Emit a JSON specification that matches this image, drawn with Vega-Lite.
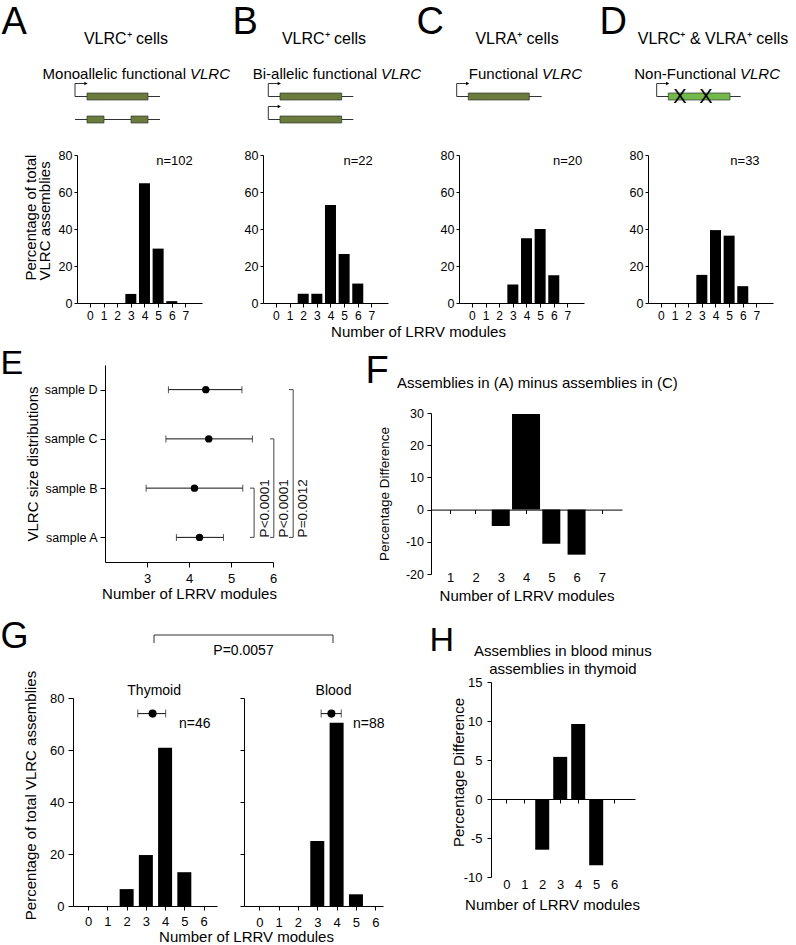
{
  "$schema": "https://vega.github.io/schema/vega-lite/v6.json",
  "padding": 0,
  "background": "white",
  "config": {
    "font": "Liberation Sans",
    "view": {"stroke": null},
    "axis": {"grid": false, "domainColor": "#000", "tickColor": "#000", "labelColor": "#000", "titleColor": "#000", "titleFontWeight": "normal", "labelFontSize": 12.5, "titleFontSize": 15, "tickSize": 4, "labelFlush": false, "labelOverlap": false, "labelFont": "Liberation Sans", "titleFont": "Liberation Sans"},
    "title": {"fontWeight": "normal", "color": "#000", "font": "Liberation Sans"}
  },
  "datasets": {
    "e_samples": [
      {"sample": "sample A", "mean": 4.25, "lo": 3.70, "hi": 4.82},
      {"sample": "sample B", "mean": 4.13, "lo": 2.98, "hi": 5.28},
      {"sample": "sample C", "mean": 4.47, "lo": 3.45, "hi": 5.51},
      {"sample": "sample D", "mean": 4.40, "lo": 3.51, "hi": 5.26}
    ],
    "e_tests": [
      {"pair": "A vs B", "p": "P<0.0001"},
      {"pair": "A vs C", "p": "P<0.0001"},
      {"pair": "A vs D", "p": "P=0.0012"}
    ],
    "f_diff": [
      {"modules": 3, "difference": -5.1},
      {"modules": 4, "difference": 29.7},
      {"modules": 5, "difference": -10.6},
      {"modules": 6, "difference": -14.0}
    ],
    "h_diff": [
      {"modules": 2, "difference": -6.5},
      {"modules": 3, "difference": 5.4},
      {"modules": 4, "difference": 9.6},
      {"modules": 5, "difference": -8.5}
    ],
    "g_thymoid": [
      {"modules": 2, "percent": 6.5},
      {"modules": 3, "percent": 19.6},
      {"modules": 4, "percent": 60.9},
      {"modules": 5, "percent": 13.0}
    ],
    "g_blood": [
      {"modules": 3, "percent": 25.0},
      {"modules": 4, "percent": 70.5},
      {"modules": 5, "percent": 4.5}
    ],
    "g_thymoid_summary": [{"tissue": "Thymoid", "n": "n=46", "mean": 3.35, "lo": 2.58, "hi": 4.03}],
    "g_blood_summary": [{"tissue": "Blood", "n": "n=88", "mean": 3.73, "lo": 3.20, "hi": 4.24}]
  },
  "spacing": 0,
  "bounds": "flush",
  "hconcat": [
    {"spacing": 0, "bounds": "flush", "vconcat": [
      {"width": 1, "height": 647, "data": {"values": []}, "mark": "point"},
      {"width": 1, "height": 1, "data": {"values": [{"panel": "G"}]}, "mark": {"type": "text", "fontSize": 36, "align": "left", "baseline": "alphabetic", "color": "#000"}, "encoding": {"text": {"field": "panel", "type": "nominal"}}}
    ]},
    {"spacing": 0, "bounds": "flush", "vconcat": [
      {"width": 1, "height": 373, "data": {"values": []}, "mark": "point"},
      {"width": 1, "height": 1, "data": {"values": [{"panel": "E"}]}, "mark": {"type": "text", "fontSize": 34, "align": "left", "baseline": "alphabetic", "color": "#000"}, "encoding": {"text": {"field": "panel", "type": "nominal"}}}
    ]},
    {"width": 1, "height": 1, "data": {"values": []}, "mark": "point"},
    {"spacing": 0, "bounds": "flush", "vconcat": [
      {"width": 1, "height": 33, "data": {"values": []}, "mark": "point"},
      {"width": 1, "height": 1, "data": {"values": [{"panel": "A"}]}, "mark": {"type": "text", "fontSize": 38, "align": "left", "baseline": "alphabetic", "color": "#000"}, "encoding": {"text": {"field": "panel", "type": "nominal"}}}
    ]},
    {"width": 69, "height": 1, "data": {"values": []}, "mark": "point"},
    {"spacing": 0, "bounds": "flush", "vconcat": [
      {"width": 1, "height": 62, "data": {"values": []}, "mark": "point"},
      {"width": 140, "height": 69, "layer": [
        {"data": {"values": [{"allele": 1, "start": 0.5, "end": 9.0}, {"allele": 2, "start": 0.5, "end": 9.0}]},
         "mark": {"type": "rule", "color": "#333", "strokeWidth": 1},
         "encoding": {"x": {"field": "start", "type": "quantitative", "scale": {"domain": [0, 14], "nice": false, "zero": false}, "axis": null}, "x2": {"field": "end"}, "y": {"field": "allele", "type": "quantitative", "scale": {"domain": [-0.5, 2.5], "reverse": true, "nice": false, "zero": false}, "axis": null}}},
        {"data": {"values": [{"allele": 1, "start": 1.7, "end": 7.8}, {"allele": 2, "start": 1.7, "end": 3.4}, {"allele": 2, "start": 6.1, "end": 7.8}]},
         "mark": {"type": "rect", "fill": "#6b7b3c", "stroke": "#333", "strokeWidth": 0.7, "yOffset": -3.5, "y2Offset": 3.5},
         "encoding": {"x": {"field": "start", "type": "quantitative", "axis": null}, "x2": {"field": "end"}, "y": {"field": "allele", "type": "quantitative", "axis": null}, "y2": {"field": "allele"}}},
        {"data": {"values": [{"allele": 1, "at": 0.5}]}, "layer": [
          {"mark": {"type": "rule", "color": "#333", "y2Offset": -13}, "encoding": {"x": {"field": "at", "type": "quantitative", "axis": null}, "y": {"field": "allele", "type": "quantitative", "axis": null}, "y2": {"field": "allele"}}},
          {"mark": {"type": "rule", "color": "#333", "x2Offset": 11, "yOffset": -13}, "encoding": {"x": {"field": "at", "type": "quantitative", "axis": null}, "x2": {"field": "at"}, "y": {"field": "allele", "type": "quantitative", "axis": null}}},
          {"mark": {"type": "point", "shape": "triangle-right", "filled": true, "size": 14, "color": "#000", "opacity": 1, "xOffset": 11, "yOffset": -13}, "encoding": {"x": {"field": "at", "type": "quantitative", "axis": null}, "y": {"field": "allele", "type": "quantitative", "axis": null}}}
        ]},
        {"data": {"values": [{"cells": "VLRC⁺ cells", "desc": "Monoallelic functional", "gene": "VLRC"}]}, "layer": [
          {"mark": {"type": "text", "fontSize": 16, "color": "#000", "baseline": "middle"}, "encoding": {"x": {"datum": 5.6, "type": "quantitative", "axis": null}, "y": {"datum": -1.5, "type": "quantitative", "axis": null}, "text": {"field": "cells"}}},
          {"mark": {"type": "text", "fontSize": 15, "color": "#000", "baseline": "middle", "align": "right", "dx": -2}, "encoding": {"x": {"datum": 11.8, "type": "quantitative", "axis": null}, "y": {"datum": 0, "type": "quantitative", "axis": null}, "text": {"field": "desc"}}},
          {"mark": {"type": "text", "fontSize": 15, "color": "#000", "baseline": "middle", "align": "left", "dx": 2, "fontStyle": "italic"}, "encoding": {"x": {"datum": 11.8, "type": "quantitative", "axis": null}, "y": {"datum": 0, "type": "quantitative", "axis": null}, "text": {"field": "gene"}}}
        ]}
      ]}
    ]},
    {"width": 3, "height": 1, "data": {"values": []}, "mark": "point"},
    {"spacing": 0, "bounds": "flush", "vconcat": [
      {"width": 1, "height": 698, "data": {"values": []}, "mark": "point"},
      {"width": 144, "height": 208, "layer": [
        {"data": {"name": "g_thymoid"}, "mark": {"type": "bar", "width": 14, "color": "#000"},
         "encoding": {
           "x": {"field": "modules", "type": "quantitative", "scale": {"domain": [-0.53, 6.44], "nice": false, "zero": false}, "axis": {"values": [0, 1, 2, 3, 4, 5, 6], "format": "d", "tickCount": 20, "labelOverlap": false, "title": "Number of LRRV modules", "titleX": 173, "titlePadding": 1.5, "tickSize": 4, "labelPadding": 5, "labelFontSize": 13}},
           "y": {"field": "percent", "type": "quantitative", "scale": {"domain": [0, 80], "nice": false}, "axis": {"values": [0, 20, 40, 60, 80], "format": "d", "tickCount": 20, "labelOverlap": false, "title": "Percentage of total VLRC assemblies", "titleY": 97, "titlePadding": 11, "tickSize": 5, "labelPadding": 4, "labelFontSize": 13}}}},
        {"data": {"name": "g_thymoid_summary"}, "layer": [
          {"mark": {"type": "rule", "color": "#111"}, "encoding": {"x": {"field": "lo", "type": "quantitative"}, "x2": {"field": "hi"}, "y": {"datum": 74, "type": "quantitative"}}},
          {"mark": {"type": "tick", "orient": "vertical", "size": 8, "thickness": 1, "color": "#111"}, "encoding": {"x": {"field": "lo", "type": "quantitative"}, "y": {"datum": 74, "type": "quantitative"}}},
          {"mark": {"type": "tick", "orient": "vertical", "size": 8, "thickness": 1, "color": "#111"}, "encoding": {"x": {"field": "hi", "type": "quantitative"}, "y": {"datum": 74, "type": "quantitative"}}},
          {"mark": {"type": "point", "filled": true, "size": 65, "color": "#000", "opacity": 1}, "encoding": {"x": {"field": "mean", "type": "quantitative"}, "y": {"datum": 74, "type": "quantitative"}}},
          {"mark": {"type": "text", "fontSize": 14, "baseline": "middle", "color": "#000"}, "encoding": {"x": {"datum": 5.54, "type": "quantitative"}, "y": {"datum": 70, "type": "quantitative"}, "text": {"field": "n"}}},
          {"mark": {"type": "text", "fontSize": 14, "baseline": "middle", "color": "#000"}, "encoding": {"x": {"datum": 3.43, "type": "quantitative"}, "y": {"datum": 82.7, "type": "quantitative"}, "text": {"field": "tissue"}}}
        ]}
      ]}
    ]},
    {"width": 4, "height": 1, "data": {"values": []}, "mark": "point"},
    {"spacing": 0, "bounds": "flush", "vconcat": [
      {"width": 1, "height": 155, "data": {"values": []}, "mark": "point"},
      {"width": 125, "height": 148, "layer": [
        {"data": {"values": [{"modules": 3, "percent": 4.9}, {"modules": 4, "percent": 64.7}, {"modules": 5, "percent": 29.4}, {"modules": 6, "percent": 1.0}]},
         "mark": {"type": "bar", "width": 11, "color": "#000"},
         "encoding": {
           "x": {"field": "modules", "type": "quantitative", "scale": {"domain": [-0.58, 7.85], "nice": false, "zero": false}, "axis": {"values": [0, 1, 2, 3, 4, 5, 6, 7], "format": "d", "tickCount": 20, "labelOverlap": false, "title": null, "tickSize": 4, "labelPadding": 3, "labelFontSize": 12}},
           "y": {"field": "percent", "type": "quantitative", "scale": {"domain": [0, 80], "nice": false}, "axis": {"values": [0, 20, 40, 60, 80], "format": "d", "tickCount": 20, "labelOverlap": false, "tickSize": 3, "labelPadding": 2, "title": ["Percentage of total", "VLRC assemblies"], "titleAlign": "left", "titleY": 125, "titlePadding": 6, "titleLineHeight": 14}}}},
        {"data": {"values": [{"n": "n=102"}]}, "mark": {"type": "text", "fontSize": 13, "color": "#000", "baseline": "middle"},
         "encoding": {"x": {"datum": 6.2, "type": "quantitative"}, "y": {"datum": 77, "type": "quantitative"}, "text": {"field": "n"}}}
      ]}
    ]},
    {"width": 28, "height": 1, "data": {"values": []}, "mark": "point"},
    {"spacing": 0, "bounds": "flush", "vconcat": [
      {"width": 1, "height": 365, "data": {"values": []}, "mark": "point"},
      {"width": 168, "height": 197, "layer": [
        {"data": {"name": "e_samples"}, "mark": {"type": "rule", "color": "#111", "strokeWidth": 1},
         "encoding": {
           "x": {"field": "lo", "type": "quantitative", "scale": {"domain": [2, 6], "nice": false, "zero": false}, "axis": {"values": [3, 4, 5, 6], "format": "d", "tickCount": 20, "labelOverlap": false, "title": "Number of LRRV modules", "tickSize": 5, "labelPadding": 5, "labelFontSize": 13, "titlePadding": 1.5}},
           "x2": {"field": "hi"},
           "y": {"field": "sample", "type": "ordinal", "scale": {"type": "point", "domain": ["sample D", "sample C", "sample B", "sample A"], "padding": 0.5}, "axis": {"title": "VLRC size distributions", "labelOverlap": false, "tickSize": 5, "labelPadding": 3, "labelFontSize": 12.5, "titlePadding": 3.5}}}},
        {"data": {"name": "e_samples"}, "mark": {"type": "tick", "orient": "vertical", "size": 7, "thickness": 1, "color": "#111"},
         "encoding": {"x": {"field": "lo", "type": "quantitative"}, "y": {"field": "sample", "type": "ordinal"}}},
        {"data": {"name": "e_samples"}, "mark": {"type": "tick", "orient": "vertical", "size": 7, "thickness": 1, "color": "#111"},
         "encoding": {"x": {"field": "hi", "type": "quantitative"}, "y": {"field": "sample", "type": "ordinal"}}},
        {"data": {"name": "e_samples"}, "mark": {"type": "point", "filled": true, "size": 55, "color": "#000", "opacity": 1},
         "encoding": {"x": {"field": "mean", "type": "quantitative"}, "y": {"field": "sample", "type": "ordinal"}}},
        {"data": {"name": "e_tests"}, "transform": [{"filter": "datum.pair === 'A vs B'"}], "layer": [
          {"mark": {"type": "rule", "color": "#444"}, "encoding": {"x": {"datum": 5.55, "type": "quantitative"}, "y": {"datum": "sample A", "type": "ordinal"}, "y2": {"datum": "sample B"}}},
          {"mark": {"type": "rule", "color": "#444"}, "encoding": {"x": {"datum": 5.45, "type": "quantitative"}, "x2": {"datum": 5.55}, "y": {"datum": "sample B", "type": "ordinal"}}},
          {"mark": {"type": "rule", "color": "#444"}, "encoding": {"x": {"datum": 5.45, "type": "quantitative"}, "x2": {"datum": 5.55}, "y": {"datum": "sample A", "type": "ordinal"}}},
          {"mark": {"type": "text", "angle": 270, "align": "left", "baseline": "middle", "fontSize": 13.5, "color": "#111"}, "encoding": {"x": {"datum": 5.81, "type": "quantitative"}, "y": {"datum": "sample A", "type": "ordinal"}, "text": {"field": "p"}}}
        ]},
        {"data": {"name": "e_tests"}, "transform": [{"filter": "datum.pair === 'A vs C'"}], "layer": [
          {"mark": {"type": "rule", "color": "#444"}, "encoding": {"x": {"datum": 6.02, "type": "quantitative"}, "y": {"datum": "sample A", "type": "ordinal"}, "y2": {"datum": "sample C"}}},
          {"mark": {"type": "rule", "color": "#444"}, "encoding": {"x": {"datum": 5.93, "type": "quantitative"}, "x2": {"datum": 6.02}, "y": {"datum": "sample C", "type": "ordinal"}}},
          {"mark": {"type": "rule", "color": "#444"}, "encoding": {"x": {"datum": 5.93, "type": "quantitative"}, "x2": {"datum": 6.02}, "y": {"datum": "sample A", "type": "ordinal"}}},
          {"mark": {"type": "text", "angle": 270, "align": "left", "baseline": "middle", "fontSize": 13.5, "color": "#111"}, "encoding": {"x": {"datum": 6.26, "type": "quantitative"}, "y": {"datum": "sample A", "type": "ordinal"}, "text": {"field": "p"}}}
        ]},
        {"data": {"name": "e_tests"}, "transform": [{"filter": "datum.pair === 'A vs D'"}], "layer": [
          {"mark": {"type": "rule", "color": "#444"}, "encoding": {"x": {"datum": 6.48, "type": "quantitative"}, "y": {"datum": "sample A", "type": "ordinal"}, "y2": {"datum": "sample D"}}},
          {"mark": {"type": "rule", "color": "#444"}, "encoding": {"x": {"datum": 6.38, "type": "quantitative"}, "x2": {"datum": 6.48}, "y": {"datum": "sample D", "type": "ordinal"}}},
          {"mark": {"type": "rule", "color": "#444"}, "encoding": {"x": {"datum": 6.38, "type": "quantitative"}, "x2": {"datum": 6.48}, "y": {"datum": "sample A", "type": "ordinal"}}},
          {"mark": {"type": "text", "angle": 270, "align": "left", "baseline": "middle", "fontSize": 13.5, "color": "#111"}, "encoding": {"x": {"datum": 6.71, "type": "quantitative"}, "y": {"datum": "sample A", "type": "ordinal"}, "text": {"field": "p"}}}
        ]}
      ]}
    ]},
    {"width": 49, "height": 1, "data": {"values": []}, "mark": "point"},
    {"spacing": 0, "bounds": "flush", "vconcat": [
      {"width": 1, "height": 635, "data": {"values": []}, "mark": "point"},
      {"width": 179, "height": 8,
       "title": {"text": "P=0.0057", "orient": "bottom", "fontSize": 14, "offset": 0, "fontWeight": "normal"},
       "layer": [
        {"data": {"values": [{"tissue": "Thymoid"}, {"tissue": "Blood"}]}, "mark": {"type": "rule", "color": "#333"},
         "encoding": {"x": {"field": "tissue", "type": "nominal", "scale": {"type": "point", "domain": ["Thymoid", "Blood"], "padding": 0}, "axis": null}, "y": {"datum": 1, "type": "quantitative", "scale": {"domain": [0, 1], "nice": false}, "axis": null}, "y2": {"datum": 0}}},
        {"data": {"values": [{"comparison": "Thymoid vs Blood"}]}, "mark": {"type": "rule", "color": "#333"},
         "encoding": {"x": {"datum": "Thymoid", "type": "nominal", "axis": null}, "x2": {"datum": "Blood"}, "y": {"datum": 1, "type": "quantitative", "axis": null}}}
      ]}
    ]},
    {"width": 78, "height": 1, "data": {"values": []}, "mark": "point"},
    {"spacing": 0, "bounds": "flush", "vconcat": [
      {"width": 1, "height": 33, "data": {"values": []}, "mark": "point"},
      {"width": 1, "height": 1, "data": {"values": [{"panel": "B"}]}, "mark": {"type": "text", "fontSize": 38, "align": "left", "baseline": "alphabetic", "color": "#000"}, "encoding": {"text": {"field": "panel", "type": "nominal"}}}
    ]},
    {"width": 12, "height": 1, "data": {"values": []}, "mark": "point"},
    {"spacing": 0, "bounds": "flush", "vconcat": [
      {"width": 1, "height": 698, "data": {"values": []}, "mark": "point"},
      {"width": 139, "height": 208, "layer": [
        {"data": {"name": "g_blood"}, "mark": {"type": "bar", "width": 14, "color": "#000"},
         "encoding": {
           "x": {"field": "modules", "type": "quantitative", "scale": {"domain": [-0.53, 6.14], "nice": false, "zero": false}, "axis": {"values": [0, 1, 2, 3, 4, 5, 6], "format": "d", "tickCount": 20, "labelOverlap": false, "title": null, "tickSize": 4, "labelPadding": 6, "labelFontSize": 13}},
           "y": {"field": "percent", "type": "quantitative", "scale": {"domain": [0, 80], "nice": false}, "axis": {"values": [0, 20, 40, 60, 80], "tickCount": 20, "title": null, "labels": false, "tickSize": 4}}}},
        {"data": {"name": "g_blood_summary"}, "layer": [
          {"mark": {"type": "rule", "color": "#111"}, "encoding": {"x": {"field": "lo", "type": "quantitative"}, "x2": {"field": "hi"}, "y": {"datum": 74, "type": "quantitative"}}},
          {"mark": {"type": "tick", "orient": "vertical", "size": 8, "thickness": 1, "color": "#111"}, "encoding": {"x": {"field": "lo", "type": "quantitative"}, "y": {"datum": 74, "type": "quantitative"}}},
          {"mark": {"type": "tick", "orient": "vertical", "size": 8, "thickness": 1, "color": "#111"}, "encoding": {"x": {"field": "hi", "type": "quantitative"}, "y": {"datum": 74, "type": "quantitative"}}},
          {"mark": {"type": "point", "filled": true, "size": 65, "color": "#000", "opacity": 1}, "encoding": {"x": {"field": "mean", "type": "quantitative"}, "y": {"datum": 74, "type": "quantitative"}}},
          {"mark": {"type": "text", "fontSize": 14, "baseline": "middle", "color": "#000"}, "encoding": {"x": {"datum": 5.66, "type": "quantitative"}, "y": {"datum": 70, "type": "quantitative"}, "text": {"field": "n"}}},
          {"mark": {"type": "text", "fontSize": 14, "baseline": "middle", "color": "#000"}, "encoding": {"x": {"datum": 3.84, "type": "quantitative"}, "y": {"datum": 82.7, "type": "quantitative"}, "text": {"field": "tissue"}}}
        ]}
      ]}
    ]},
    {"width": 16, "height": 1, "data": {"values": []}, "mark": "point"},
    {"spacing": 0, "bounds": "flush", "vconcat": [
      {"width": 1, "height": 62, "data": {"values": []}, "mark": "point"},
      {"width": 140, "height": 69, "layer": [
        {"data": {"values": [{"allele": 1, "start": 0.83, "end": 9.33}, {"allele": 2, "start": 0.83, "end": 9.33}]},
         "mark": {"type": "rule", "color": "#333", "strokeWidth": 1},
         "encoding": {"x": {"field": "start", "type": "quantitative", "scale": {"domain": [0, 14], "nice": false, "zero": false}, "axis": null}, "x2": {"field": "end"}, "y": {"field": "allele", "type": "quantitative", "scale": {"domain": [-0.5, 2.5], "reverse": true, "nice": false, "zero": false}, "axis": null}}},
        {"data": {"values": [{"allele": 1, "start": 2.0, "end": 8.17}, {"allele": 2, "start": 2.0, "end": 8.17}]},
         "mark": {"type": "rect", "fill": "#6b7b3c", "stroke": "#333", "strokeWidth": 0.7, "yOffset": -3.5, "y2Offset": 3.5},
         "encoding": {"x": {"field": "start", "type": "quantitative", "axis": null}, "x2": {"field": "end"}, "y": {"field": "allele", "type": "quantitative", "axis": null}, "y2": {"field": "allele"}}},
        {"data": {"values": [{"allele": 1, "at": 0.83}, {"allele": 2, "at": 0.83}]}, "layer": [
          {"mark": {"type": "rule", "color": "#333", "y2Offset": -13}, "encoding": {"x": {"field": "at", "type": "quantitative", "axis": null}, "y": {"field": "allele", "type": "quantitative", "axis": null}, "y2": {"field": "allele"}}},
          {"mark": {"type": "rule", "color": "#333", "x2Offset": 11, "yOffset": -13}, "encoding": {"x": {"field": "at", "type": "quantitative", "axis": null}, "x2": {"field": "at"}, "y": {"field": "allele", "type": "quantitative", "axis": null}}},
          {"mark": {"type": "point", "shape": "triangle-right", "filled": true, "size": 14, "color": "#000", "opacity": 1, "xOffset": 11, "yOffset": -13}, "encoding": {"x": {"field": "at", "type": "quantitative", "axis": null}, "y": {"field": "allele", "type": "quantitative", "axis": null}}}
        ]},
        {"data": {"values": [{"cells": "VLRC⁺ cells", "desc": "Bi-allelic functional", "gene": "VLRC"}]}, "layer": [
          {"mark": {"type": "text", "fontSize": 16, "color": "#000", "baseline": "middle"}, "encoding": {"x": {"datum": 6.4, "type": "quantitative", "axis": null}, "y": {"datum": -1.5, "type": "quantitative", "axis": null}, "text": {"field": "cells"}}},
          {"mark": {"type": "text", "fontSize": 15, "color": "#000", "baseline": "middle", "align": "right", "dx": -2}, "encoding": {"x": {"datum": 11.9, "type": "quantitative", "axis": null}, "y": {"datum": 0, "type": "quantitative", "axis": null}, "text": {"field": "desc"}}},
          {"mark": {"type": "text", "fontSize": 15, "color": "#000", "baseline": "middle", "align": "left", "dx": 2, "fontStyle": "italic"}, "encoding": {"x": {"datum": 11.9, "type": "quantitative", "axis": null}, "y": {"datum": 0, "type": "quantitative", "axis": null}, "text": {"field": "gene"}}}
        ]}
      ]}
    ]},
    {"width": 3, "height": 1, "data": {"values": []}, "mark": "point"},
    {"spacing": 0, "bounds": "flush", "vconcat": [
      {"width": 1, "height": 155, "data": {"values": []}, "mark": "point"},
      {"width": 125, "height": 148, "layer": [
        {"data": {"values": [{"modules": 2, "percent": 5.0}, {"modules": 3, "percent": 5.0}, {"modules": 4, "percent": 53.0}, {"modules": 5, "percent": 26.5}, {"modules": 6, "percent": 10.5}]},
         "mark": {"type": "bar", "width": 11, "color": "#000"},
         "encoding": {
           "x": {"field": "modules", "type": "quantitative", "scale": {"domain": [-0.58, 7.85], "nice": false, "zero": false}, "axis": {"values": [0, 1, 2, 3, 4, 5, 6, 7], "format": "d", "tickCount": 20, "labelOverlap": false, "title": "Number of LRRV modules", "titleX": 155, "titlePadding": 3, "tickSize": 4, "labelPadding": 3, "labelFontSize": 12}},
           "y": {"field": "percent", "type": "quantitative", "scale": {"domain": [0, 80], "nice": false}, "axis": {"values": [0, 20, 40, 60, 80], "format": "d", "tickCount": 20, "labelOverlap": false, "tickSize": 3, "labelPadding": 2, "title": null}}}},
        {"data": {"values": [{"n": "n=22"}]}, "mark": {"type": "text", "fontSize": 13, "color": "#000", "baseline": "middle"},
         "encoding": {"x": {"datum": 6.03, "type": "quantitative"}, "y": {"datum": 77, "type": "quantitative"}, "text": {"field": "n"}}}
      ]}
    ]},
    {"width": 102, "height": 1, "data": {"values": []}, "mark": "point"},
    {"spacing": 0, "bounds": "flush", "vconcat": [
      {"width": 1, "height": 382, "data": {"values": []}, "mark": "point"},
      {"width": 1, "height": 1, "data": {"values": [{"panel": "F"}]}, "mark": {"type": "text", "fontSize": 38, "align": "left", "baseline": "alphabetic", "color": "#000"}, "encoding": {"text": {"field": "panel", "type": "nominal"}}}
    ]},
    {"width": 51, "height": 1, "data": {"values": []}, "mark": "point"},
    {"spacing": 0, "bounds": "flush", "vconcat": [
      {"width": 1, "height": 33, "data": {"values": []}, "mark": "point"},
      {"width": 1, "height": 1, "data": {"values": [{"panel": "C"}]}, "mark": {"type": "text", "fontSize": 38, "align": "left", "baseline": "alphabetic", "color": "#000"}, "encoding": {"text": {"field": "panel", "type": "nominal"}}}
    ]},
    {"width": 13, "height": 1, "data": {"values": []}, "mark": "point"},
    {"spacing": 0, "bounds": "flush", "vconcat": [
      {"width": 1, "height": 650, "data": {"values": []}, "mark": "point"},
      {"width": 1, "height": 1, "data": {"values": [{"panel": "H"}]}, "mark": {"type": "text", "fontSize": 34, "align": "left", "baseline": "alphabetic", "color": "#000"}, "encoding": {"text": {"field": "panel", "type": "nominal"}}}
    ]},
    {"width": 2, "height": 1, "data": {"values": []}, "mark": "point"},
    {"spacing": 0, "bounds": "flush", "vconcat": [
      {"width": 1, "height": 413, "data": {"values": []}, "mark": "point"},
      {"width": 191, "height": 161, "layer": [
        {"data": {"name": "f_diff"}, "transform": [{"filter": "datum.modules !== 4"}], "mark": {"type": "bar", "width": 18, "color": "#000"},
         "encoding": {
           "x": {"field": "modules", "type": "quantitative", "scale": {"domain": [0.4375, 7.6], "nice": false, "zero": false}, "axis": {"values": [1, 2, 3, 4, 5, 6, 7], "format": "d", "tickCount": 20, "labelOverlap": false, "offset": -64.4, "tickSize": 4, "labelPadding": 57.4, "labelFontSize": 13, "title": "Number of LRRV modules", "titlePadding": 4.5}},
           "y": {"field": "difference", "type": "quantitative", "scale": {"domain": [-20, 30], "nice": false}, "axis": {"values": [-20, -10, 0, 10, 20, 30], "format": "d", "tickCount": 20, "labelOverlap": false, "labelExpr": "datum.value < 0 ? '-' + abs(datum.value) : datum.label", "tickSize": 4, "labelPadding": 3.5, "title": "Percentage Difference", "titleFontSize": 13.5, "titlePadding": 14}}}},
        {"data": {"name": "f_diff"}, "transform": [{"filter": "datum.modules === 4"}], "mark": {"type": "bar", "width": 28, "color": "#000"},
         "encoding": {"x": {"field": "modules", "type": "quantitative"}, "y": {"field": "difference", "type": "quantitative"}}},
        {"data": {"values": [{"caption": "Assemblies in (A) minus assemblies in (C)"}]}, "mark": {"type": "text", "fontSize": 15, "color": "#000", "baseline": "middle"},
         "encoding": {"x": {"datum": 4.45, "type": "quantitative"}, "y": {"datum": 39.3, "type": "quantitative"}, "text": {"field": "caption"}}}
      ]}
    ]},
    {"width": 19, "height": 1, "data": {"values": []}, "mark": "point"},
    {"spacing": 0, "bounds": "flush", "vconcat": [
      {"width": 1, "height": 62, "data": {"values": []}, "mark": "point"},
      {"width": 140, "height": 69, "layer": [
        {"data": {"values": [{"allele": 1, "start": 0.67, "end": 9.17}]},
         "mark": {"type": "rule", "color": "#333", "strokeWidth": 1},
         "encoding": {"x": {"field": "start", "type": "quantitative", "scale": {"domain": [0, 14], "nice": false, "zero": false}, "axis": null}, "x2": {"field": "end"}, "y": {"field": "allele", "type": "quantitative", "scale": {"domain": [-0.5, 2.5], "reverse": true, "nice": false, "zero": false}, "axis": null}}},
        {"data": {"values": [{"allele": 1, "start": 1.83, "end": 7.93}]},
         "mark": {"type": "rect", "fill": "#6b7b3c", "stroke": "#333", "strokeWidth": 0.7, "yOffset": -3.5, "y2Offset": 3.5},
         "encoding": {"x": {"field": "start", "type": "quantitative", "axis": null}, "x2": {"field": "end"}, "y": {"field": "allele", "type": "quantitative", "axis": null}, "y2": {"field": "allele"}}},
        {"data": {"values": [{"allele": 1, "at": 0.67}]}, "layer": [
          {"mark": {"type": "rule", "color": "#333", "y2Offset": -13}, "encoding": {"x": {"field": "at", "type": "quantitative", "axis": null}, "y": {"field": "allele", "type": "quantitative", "axis": null}, "y2": {"field": "allele"}}},
          {"mark": {"type": "rule", "color": "#333", "x2Offset": 11, "yOffset": -13}, "encoding": {"x": {"field": "at", "type": "quantitative", "axis": null}, "x2": {"field": "at"}, "y": {"field": "allele", "type": "quantitative", "axis": null}}},
          {"mark": {"type": "point", "shape": "triangle-right", "filled": true, "size": 14, "color": "#000", "opacity": 1, "xOffset": 11, "yOffset": -13}, "encoding": {"x": {"field": "at", "type": "quantitative", "axis": null}, "y": {"field": "allele", "type": "quantitative", "axis": null}}}
        ]},
        {"data": {"values": [{"cells": "VLRA⁺ cells", "desc": "Functional", "gene": "VLRC"}]}, "layer": [
          {"mark": {"type": "text", "fontSize": 16, "color": "#000", "baseline": "middle"}, "encoding": {"x": {"datum": 6.7, "type": "quantitative", "axis": null}, "y": {"datum": -1.5, "type": "quantitative", "axis": null}, "text": {"field": "cells"}}},
          {"mark": {"type": "text", "fontSize": 15, "color": "#000", "baseline": "middle", "align": "right", "dx": -2}, "encoding": {"x": {"datum": 9.0, "type": "quantitative", "axis": null}, "y": {"datum": 0, "type": "quantitative", "axis": null}, "text": {"field": "desc"}}},
          {"mark": {"type": "text", "fontSize": 15, "color": "#000", "baseline": "middle", "align": "left", "dx": 2, "fontStyle": "italic"}, "encoding": {"x": {"datum": 9.0, "type": "quantitative", "axis": null}, "y": {"datum": 0, "type": "quantitative", "axis": null}, "text": {"field": "gene"}}}
        ]}
      ]}
    ]},
    {"width": 9, "height": 1, "data": {"values": []}, "mark": "point"},
    {"spacing": 0, "bounds": "flush", "vconcat": [
      {"width": 1, "height": 155, "data": {"values": []}, "mark": "point"},
      {"width": 125, "height": 148, "layer": [
        {"data": {"values": [{"modules": 3, "percent": 10}, {"modules": 4, "percent": 35}, {"modules": 5, "percent": 40}, {"modules": 6, "percent": 15}]},
         "mark": {"type": "bar", "width": 11, "color": "#000"},
         "encoding": {
           "x": {"field": "modules", "type": "quantitative", "scale": {"domain": [-0.58, 7.85], "nice": false, "zero": false}, "axis": {"values": [0, 1, 2, 3, 4, 5, 6, 7], "format": "d", "tickCount": 20, "labelOverlap": false, "title": null, "tickSize": 4, "labelPadding": 3, "labelFontSize": 12}},
           "y": {"field": "percent", "type": "quantitative", "scale": {"domain": [0, 80], "nice": false}, "axis": {"values": [0, 20, 40, 60, 80], "format": "d", "tickCount": 20, "labelOverlap": false, "tickSize": 3, "labelPadding": 2, "title": null}}}},
        {"data": {"values": [{"n": "n=20"}]}, "mark": {"type": "text", "fontSize": 13, "color": "#000", "baseline": "middle"},
         "encoding": {"x": {"datum": 7.02, "type": "quantitative"}, "y": {"datum": 77, "type": "quantitative"}, "text": {"field": "n"}}}
      ]}
    ]},
    {"width": 32, "height": 1, "data": {"values": []}, "mark": "point"},
    {"spacing": 0, "bounds": "flush", "vconcat": [
      {"width": 1, "height": 682, "data": {"values": []}, "mark": "point"},
      {"width": 144, "height": 195, "layer": [
        {"data": {"name": "h_diff"}, "mark": {"type": "bar", "width": 14, "color": "#000"},
         "encoding": {
           "x": {"field": "modules", "type": "quantitative", "scale": {"domain": [-0.57, 6.88], "nice": false, "zero": false}, "axis": {"values": [0, 1, 2, 3, 4, 5, 6], "format": "d", "tickCount": 20, "labelOverlap": false, "offset": -78, "tickSize": 4, "labelPadding": 75, "labelFontSize": 13, "title": "Number of LRRV modules", "titleX": 61, "titlePadding": 6.5}},
           "y": {"field": "difference", "type": "quantitative", "scale": {"domain": [-10, 15], "nice": false}, "axis": {"values": [-10, -5, 0, 5, 10, 15], "format": "d", "tickCount": 20, "labelOverlap": false, "labelExpr": "datum.value < 0 ? '-' + abs(datum.value) : datum.label", "labelFontSize": 13, "tickSize": 4, "labelPadding": 5, "title": "Percentage Difference", "titleY": 90, "titlePadding": -3}}}},
        {"data": {"values": [{"line1": "Assemblies in blood minus", "line2": "assemblies in thymoid"}]}, "layer": [
          {"mark": {"type": "text", "fontSize": 15, "color": "#000", "baseline": "middle"}, "encoding": {"x": {"datum": 3.15, "type": "quantitative"}, "y": {"datum": 18.97, "type": "quantitative"}, "text": {"field": "line1"}}},
          {"mark": {"type": "text", "fontSize": 15, "color": "#000", "baseline": "middle"}, "encoding": {"x": {"datum": 3.15, "type": "quantitative"}, "y": {"datum": 16.67, "type": "quantitative"}, "text": {"field": "line2"}}}
        ]}
      ]}
    ]},
    {"width": 108, "height": 1, "data": {"values": []}, "mark": "point"},
    {"spacing": 0, "bounds": "flush", "vconcat": [
      {"width": 1, "height": 33, "data": {"values": []}, "mark": "point"},
      {"width": 1, "height": 1, "data": {"values": [{"panel": "D"}]}, "mark": {"type": "text", "fontSize": 38, "align": "left", "baseline": "alphabetic", "color": "#000"}, "encoding": {"text": {"field": "panel", "type": "nominal"}}}
    ]},
    {"width": 49, "height": 1, "data": {"values": []}, "mark": "point"},
    {"spacing": 0, "bounds": "flush", "vconcat": [
      {"width": 1, "height": 155, "data": {"values": []}, "mark": "point"},
      {"width": 125, "height": 148, "layer": [
        {"data": {"values": [{"modules": 3, "percent": 15.2}, {"modules": 4, "percent": 39.4}, {"modules": 5, "percent": 36.4}, {"modules": 6, "percent": 9.1}]},
         "mark": {"type": "bar", "width": 11, "color": "#000"},
         "encoding": {
           "x": {"field": "modules", "type": "quantitative", "scale": {"domain": [-0.58, 7.85], "nice": false, "zero": false}, "axis": {"values": [0, 1, 2, 3, 4, 5, 6, 7], "format": "d", "tickCount": 20, "labelOverlap": false, "title": null, "tickSize": 4, "labelPadding": 3, "labelFontSize": 12}},
           "y": {"field": "percent", "type": "quantitative", "scale": {"domain": [0, 80], "nice": false}, "axis": {"values": [0, 20, 40, 60, 80], "format": "d", "tickCount": 20, "labelOverlap": false, "tickSize": 3, "labelPadding": 2, "title": null}}}},
        {"data": {"values": [{"n": "n=33"}]}, "mark": {"type": "text", "fontSize": 13, "color": "#000", "baseline": "middle"},
         "encoding": {"x": {"datum": 6.16, "type": "quantitative"}, "y": {"datum": 77, "type": "quantitative"}, "text": {"field": "n"}}}
      ]}
    ]},
    {"width": 2, "height": 1, "data": {"values": []}, "mark": "point"},
    {"spacing": 0, "bounds": "flush", "vconcat": [
      {"width": 1, "height": 62, "data": {"values": []}, "mark": "point"},
      {"width": 140, "height": 69, "layer": [
        {"data": {"values": [{"allele": 1, "start": 0.67, "end": 9.07}]},
         "mark": {"type": "rule", "color": "#333", "strokeWidth": 1},
         "encoding": {"x": {"field": "start", "type": "quantitative", "scale": {"domain": [0, 14], "nice": false, "zero": false}, "axis": null}, "x2": {"field": "end"}, "y": {"field": "allele", "type": "quantitative", "scale": {"domain": [-0.5, 2.5], "reverse": true, "nice": false, "zero": false}, "axis": null}}},
        {"data": {"values": [{"allele": 1, "start": 1.83, "end": 8.0}]},
         "mark": {"type": "rect", "fill": "#72b84a", "stroke": "#333", "strokeWidth": 0.7, "yOffset": -3.5, "y2Offset": 3.5},
         "encoding": {"x": {"field": "start", "type": "quantitative", "axis": null}, "x2": {"field": "end"}, "y": {"field": "allele", "type": "quantitative", "axis": null}, "y2": {"field": "allele"}}},
        {"data": {"values": [{"allele": 1, "at": 3.0}, {"allele": 1, "at": 5.6}]},
         "mark": {"type": "text", "text": "X", "fontSize": 20, "baseline": "middle", "color": "#000"},
         "encoding": {"x": {"field": "at", "type": "quantitative", "axis": null}, "y": {"field": "allele", "type": "quantitative", "axis": null}}},
        {"data": {"values": [{"allele": 1, "at": 0.67}]}, "layer": [
          {"mark": {"type": "rule", "color": "#333", "y2Offset": -13}, "encoding": {"x": {"field": "at", "type": "quantitative", "axis": null}, "y": {"field": "allele", "type": "quantitative", "axis": null}, "y2": {"field": "allele"}}},
          {"mark": {"type": "rule", "color": "#333", "x2Offset": 11, "yOffset": -13}, "encoding": {"x": {"field": "at", "type": "quantitative", "axis": null}, "x2": {"field": "at"}, "y": {"field": "allele", "type": "quantitative", "axis": null}}},
          {"mark": {"type": "point", "shape": "triangle-right", "filled": true, "size": 14, "color": "#000", "opacity": 1, "xOffset": 11, "yOffset": -13}, "encoding": {"x": {"field": "at", "type": "quantitative", "axis": null}, "y": {"field": "allele", "type": "quantitative", "axis": null}}}
        ]},
        {"data": {"values": [{"cells": "VLRC⁺ & VLRA⁺ cells", "desc": "Non-Functional", "gene": "VLRC"}]}, "layer": [
          {"mark": {"type": "text", "fontSize": 16, "color": "#000", "baseline": "middle"}, "encoding": {"x": {"datum": 6.3, "type": "quantitative", "axis": null}, "y": {"datum": -1.5, "type": "quantitative", "axis": null}, "text": {"field": "cells"}}},
          {"mark": {"type": "text", "fontSize": 15, "color": "#000", "baseline": "middle", "align": "right", "dx": -2}, "encoding": {"x": {"datum": 8.8, "type": "quantitative", "axis": null}, "y": {"datum": 0, "type": "quantitative", "axis": null}, "text": {"field": "desc"}}},
          {"mark": {"type": "text", "fontSize": 15, "color": "#000", "baseline": "middle", "align": "left", "dx": 2, "fontStyle": "italic"}, "encoding": {"x": {"datum": 8.8, "type": "quantitative", "axis": null}, "y": {"datum": 0, "type": "quantitative", "axis": null}, "text": {"field": "gene"}}}
        ]}
      ]}
    ]}
  ]
}
